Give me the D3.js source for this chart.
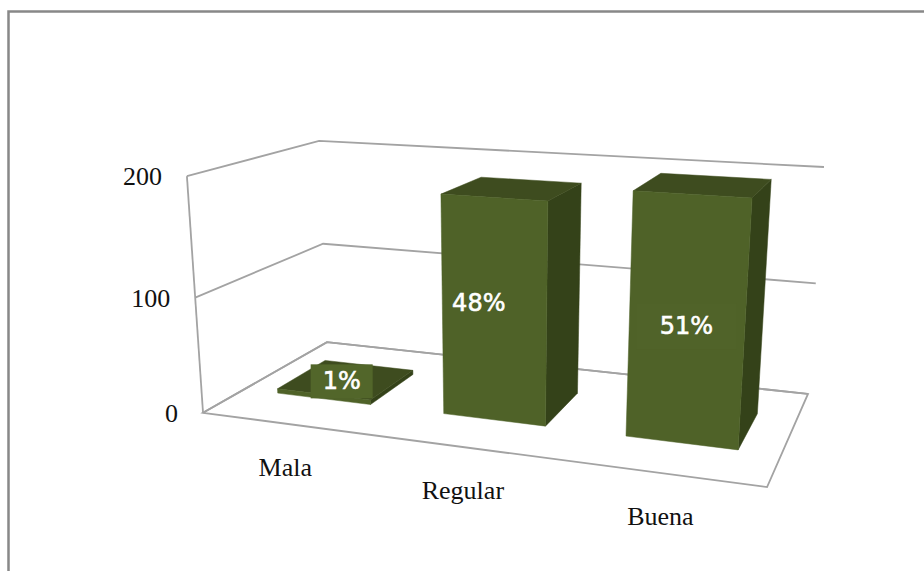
<!DOCTYPE html>
<html>
<head>
<meta charset="utf-8">
<script src="https://cdn.jsdelivr.net/npm/d3@7"></script>
<style>
html, body { margin: 0; padding: 0; background: #fff; }
svg { display: block; }
</style>
</head>
<body>
<svg id="chart" width="924" height="571"></svg>
<script>
const categories = ["Mala", "Regular", "Buena"];
const counts = [4, 186, 198];
const percentLabels = ["1%", "48%", "51%"];
const tickValues = [0, 100, 200];

const width = 924;
const height = 571;
const FRONT = "#4f6228", TOP = "#3e4c1f", SIDE = "#344219", GRID = "#a3a3a3";

// where the corners of the chart box land on screen: [u, v, w, x, y]
const boxCorners = [
    [0, 0, 0, 203, 413],
    [1, 0, 0, 767, 487],
    [1, 1, 0, 808, 394],
    [0, 1, 0, 327, 342],
    [0, 0, 1, 187, 176],
    [0, 1, 1, 319, 141],
    [1, 1, 1, 824, 167],
];

// label nudges from the anchor point on each bar, in px
const labelShift = [[-5, 2], [-15, -8], [0, 4]];
const labelBox = [{ w: 62, h: 34 }, null, { w: 100, h: 46 }];
const categoryShift = [[0, 0], [-1, 0], [-1, 0]];

// least squares fit of the perspective camera through the box corners
function fitCamera(corners) {
    const rows = [], rhs = [];
    corners.forEach(([u, v, w, x, y]) => {
        rows.push([u, v, w, 1, 0, 0, 0, 0, -x * u, -x * v, -x * w]);
        rhs.push(x);
        rows.push([0, 0, 0, 0, u, v, w, 1, -y * u, -y * v, -y * w]);
        rhs.push(y);
    });
    const n = 11;
    const m = d3.range(n).map(i => d3.range(n + 1).map(j =>
        d3.sum(rows, (r, k) => r[i] * (j < n ? r[j] : rhs[k]))));
    for (let i = 0; i < n; i++) {
        let best = i;
        for (let k = i + 1; k < n; k++) if (Math.abs(m[k][i]) > Math.abs(m[best][i])) best = k;
        [m[i], m[best]] = [m[best], m[i]];
        for (let k = 0; k < n; k++) {
            if (k === i) continue;
            const f = m[k][i] / m[i][i];
            for (let j = i; j <= n; j++) m[k][j] -= f * m[i][j];
        }
    }
    return d3.range(n).map(i => m[i][n] / m[i][i]);
}

const cam = fitCamera(boxCorners);
function project(u, v, w) {
    const d = cam[8] * u + cam[9] * v + cam[10] * w + 1;
    return [
        (cam[0] * u + cam[1] * v + cam[2] * w + cam[3]) / d,
        (cam[4] * u + cam[5] * v + cam[6] * w + cam[7]) / d,
    ];
}

const xBand = d3.scaleBand().domain(categories).range([0, 1]).paddingInner(0.43).paddingOuter(0.21);
const yValue = d3.scaleLinear().domain([0, 200]).range([0, 1]);
const depth = d3.scaleLinear().domain([0, 1]).range([0.3, 0.7]);

const svg = d3.select("svg#chart").attr("viewBox", [0, 0, width, height]);
const polygon = d3.line().curve(d3.curveLinearClosed);

// frame round the sheet, only top and left are on the page
svg.append("path")
    .attr("d", `M8.5,571V11.5H${width}`)
    .attr("fill", "none")
    .attr("stroke", "#888")
    .attr("stroke-width", 2.5);

// floor outline
svg.append("path")
    .attr("d", polygon([project(0, 0, 0), project(1, 0, 0), project(1, 1, 0), project(0, 1, 0)]))
    .attr("fill", "#fff")
    .attr("stroke", GRID)
    .attr("stroke-width", 1.8);

// walls: one line per tick across the side wall and the back wall
svg.append("g").selectAll("path").data(tickValues).join("path")
    .attr("fill", "none")
    .attr("stroke", GRID)
    .attr("stroke-width", 1.8)
    .attr("d", t => d3.line()([
        project(0, 0, yValue(t)),
        project(0, 1, yValue(t)),
        project(1, 1, yValue(t)),
    ]));

svg.append("path")
    .attr("d", d3.line()([project(0, 0, 0), project(0, 0, 1)]))
    .attr("stroke", GRID)
    .attr("stroke-width", 1.8);

// value axis labels
svg.append("g").selectAll("text").data(tickValues).join("text")
    .attr("x", t => project(0, 0, yValue(t))[0] - 25)
    .attr("y", t => project(0, 0, yValue(t))[1] + 9)
    .attr("text-anchor", "end")
    .attr("font-family", "'Liberation Serif', serif")
    .attr("font-size", 26)
    .attr("fill", "#111")
    .text(d => d);

// bars, from left to right
const bars = categories.map((name, i) => {
    const u0 = xBand(name), u1 = u0 + xBand.bandwidth();
    const v0 = depth(0), v1 = depth(1), w = yValue(counts[i]);
    return { name, i, u0, u1, v0, v1, w };
});

const barGroups = svg.append("g").selectAll("g").data(bars).join("g");
barGroups.append("path")
    .attr("fill", SIDE).attr("stroke", SIDE).attr("stroke-width", 0.5)
    .attr("d", b => polygon([project(b.u1, b.v0, 0), project(b.u1, b.v1, 0), project(b.u1, b.v1, b.w), project(b.u1, b.v0, b.w)]));
barGroups.append("path")
    .attr("fill", TOP).attr("stroke", TOP).attr("stroke-width", 0.5)
    .attr("d", b => polygon([project(b.u0, b.v0, b.w), project(b.u1, b.v0, b.w), project(b.u1, b.v1, b.w), project(b.u0, b.v1, b.w)]));
barGroups.append("path")
    .attr("fill", FRONT).attr("stroke", FRONT).attr("stroke-width", 0.5)
    .attr("d", b => polygon([project(b.u0, b.v0, 0), project(b.u1, b.v0, 0), project(b.u1, b.v0, b.w), project(b.u0, b.v0, b.w)]));

// percent labels sit on a bar coloured box
function labelAnchor(b) {
    const um = (b.u0 + b.u1) / 2;
    const p = b.w < 0.1
        ? project(um, (b.v0 + b.v1) / 2, b.w)
        : project(um, b.v0, b.w / 2);
    return [p[0] + labelShift[b.i][0], p[1] + labelShift[b.i][1]];
}

barGroups.filter(b => labelBox[b.i]).append("rect")
    .attr("x", b => labelAnchor(b)[0] - labelBox[b.i].w / 2)
    .attr("y", b => labelAnchor(b)[1] - labelBox[b.i].h / 2)
    .attr("width", b => labelBox[b.i].w)
    .attr("height", b => labelBox[b.i].h)
    .attr("fill", b => b.i === 0 ? "#52662a" : "#506329");

barGroups.append("text")
    .attr("x", b => labelAnchor(b)[0])
    .attr("y", b => labelAnchor(b)[1] + 8)
    .attr("text-anchor", "middle")
    .attr("font-family", "'DejaVu Sans', sans-serif")
    .attr("font-size", 24)
    .attr("fill", "#fff")
    .attr("stroke", "#fff")
    .attr("stroke-width", 0.6)
    .text(b => percentLabels[b.i]);

// category labels under the front edge of the floor
svg.append("g").selectAll("text").data(bars).join("text")
    .attr("x", b => project((b.u0 + b.u1) / 2, 0, 0)[0] + categoryShift[b.i][0])
    .attr("y", b => project((b.u0 + b.u1) / 2, 0, 0)[1] + 52)
    .attr("text-anchor", "middle")
    .attr("font-family", "'Liberation Serif', serif")
    .attr("font-size", 26)
    .attr("fill", "#111")
    .text(b => b.name);
</script>
</body>
</html>
